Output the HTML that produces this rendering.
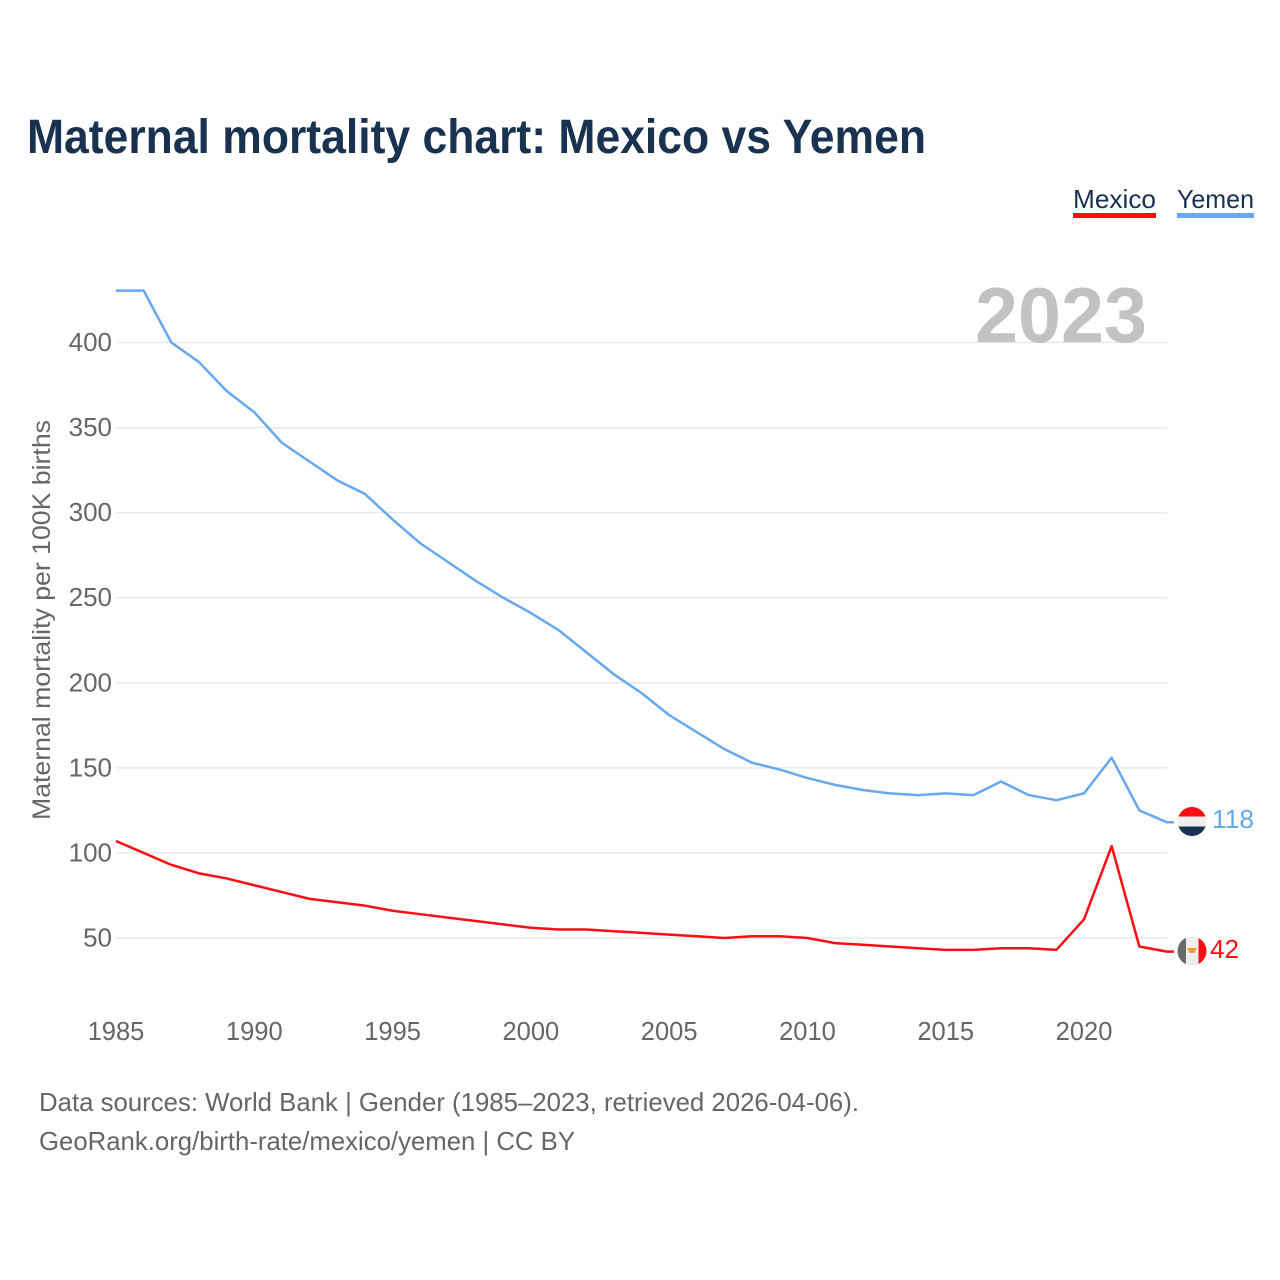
<!DOCTYPE html>
<html lang="en">
<head>
<meta charset="utf-8">
<title>Maternal mortality chart: Mexico vs Yemen</title>
<style>
html,body{margin:0;padding:0;background:#fff;width:1280px;height:1280px;overflow:hidden}
svg{display:block}
text{font-family:"Liberation Sans",Arial,sans-serif}
</style>
</head>
<body>
<svg id="chart" xmlns="http://www.w3.org/2000/svg" width="1280" height="1280" viewBox="0 0 1280 1280">
  <rect width="1280" height="1280" fill="#fff"/>
  <text x="27" y="153" font-size="48" font-weight="700" fill="#18324f" textLength="899" lengthAdjust="spacingAndGlyphs">Maternal mortality chart: Mexico vs Yemen</text>

  <g>
    <g>
      <text x="1073" y="208" font-size="26" fill="#18324f" textLength="83" lengthAdjust="spacingAndGlyphs">Mexico</text>
      <rect x="1073" y="213" width="83" height="5" fill="#ff0d14"/>
    </g>
    <g>
      <text x="1177" y="208" font-size="26" fill="#18324f" textLength="77" lengthAdjust="spacingAndGlyphs">Yemen</text>
      <rect x="1177" y="213" width="77" height="5" fill="#67a8ee"/>
    </g>
  </g>

  <g id="grid"></g>
  <text x="975" y="342" font-size="78" font-weight="700" fill="#c2c2c2" textLength="172" lengthAdjust="spacingAndGlyphs">2023</text>
  <g id="yticks"></g>
  <g id="xticks"></g>
  <text transform="translate(50,820) rotate(-90)" font-size="25" fill="#666" textLength="400" lengthAdjust="spacingAndGlyphs">Maternal mortality per 100K births</text>

  <g id="lines"></g>

  <defs>
    <clipPath id="clip-yemen"><circle cx="1192" cy="821.5" r="14.5"/></clipPath>
    <clipPath id="clip-mexico"><circle cx="1192" cy="951" r="14.5"/></clipPath>
  </defs>
  <g id="flag-yemen" clip-path="url(#clip-yemen)">
    <rect x="1177" y="806" width="30" height="31" fill="#eeeeee"/>
    <rect x="1177" y="806" width="30" height="10.5" fill="#ff0d14"/>
    <rect x="1177" y="826.5" width="30" height="10.5" fill="#18324f"/>
  </g>
  <g id="flag-mexico" clip-path="url(#clip-mexico)">
    <rect x="1177" y="936" width="30" height="31" fill="#eeeeee"/>
    <rect x="1177" y="936" width="9" height="31" fill="#6a6a6a"/>
    <rect x="1198.5" y="936" width="9" height="31" fill="#ff0d14"/>
    <path d="M1187 948h10l-2.500 5h-5z" fill="#f0a030"/>
  </g>
  <text x="1212" y="828" font-size="26" fill="#67a8ee" textLength="42" lengthAdjust="spacingAndGlyphs">118</text>
  <text x="1210" y="958" font-size="26" fill="#ff0d14" textLength="29" lengthAdjust="spacingAndGlyphs">42</text>

  <text x="39" y="1111" font-size="26" fill="#666" textLength="820" lengthAdjust="spacingAndGlyphs">Data sources: World Bank | Gender (1985–2023, retrieved 2026-04-06).</text>
  <text x="39" y="1150" font-size="26" fill="#666" textLength="536" lengthAdjust="spacingAndGlyphs">GeoRank.org/birth-rate/mexico/yemen | CC BY</text>
</svg>
<script>
const years = [1985,1986,1987,1988,1989,1990,1991,1992,1993,1994,1995,1996,1997,1998,1999,2000,2001,2002,2003,2004,2005,2006,2007,2008,2009,2010,2011,2012,2013,2014,2015,2016,2017,2018,2019,2020,2021,2022,2023];
const mexicoValues = [107,100,93,88,85,81,77,73,71,69,66,64,62,60,58,56,55,55,54,53,52,51,50,51,51,50,47,46,45,44,43,43,44,44,43,61,104,45,42];
const yemenValues = [430.5,430.5,400,388.5,371.5,359,341,330,319,311,296,282,271,260,250,241,231,218,205,194,181,171,161,153,149,144,140,137,135,134,135,134,142,134,131,135,156,125,118];
const yTickValues = [50,100,150,200,250,300,350,400];
const xTickValues = [1985,1990,1995,2000,2005,2010,2015,2020];

const NS = 'http://www.w3.org/2000/svg';
function xScale(year){ return 116 + (year - 1985) * (1167 - 116) / 38; }
function yScale(value){ return 938 - (value - 50) * (938 - 342.5) / 350; }
function make(tag, attrs){
  const el = document.createElementNS(NS, tag);
  for (const k in attrs) el.setAttribute(k, attrs[k]);
  return el;
}

const grid = document.getElementById('grid');
const yticks = document.getElementById('yticks');
yTickValues.forEach(function(v){
  const line = make('line', {x1:116, x2:1167, y1:yScale(v), y2:yScale(v), stroke:'#e9e9e9', 'stroke-width':1.5});
  
  
  grid.appendChild(line);
  const label = make('text', {x:112, y:yScale(v) + 8.5, 'text-anchor':'end', 'font-size':26, fill:'#666'});
  
  
  label.textContent = v;
  yticks.appendChild(label);
});

const xticks = document.getElementById('xticks');
xTickValues.forEach(function(y){
  const label = make('text', {x:xScale(y), y:1040, 'text-anchor':'middle', 'font-size':25.5, fill:'#666'});
  
  
  label.textContent = y;
  xticks.appendChild(label);
});

const lines = document.getElementById('lines');
function pathFor(values){
  const pts = values.map(function(v, i){
    return (i ? 'L' : 'M') + xScale(years[i]).toFixed(2) + ' ' + yScale(v).toFixed(2);
  });
  // short horizontal leader from the last point toward the flag marker
  pts.push('h7');
  return pts.join(' ');
}
const yemenLine = make('path', {d:pathFor(yemenValues), fill:'none', stroke:'#67a8ee', 'stroke-width':2.5, 'stroke-linejoin':'round'});


lines.appendChild(yemenLine);
const mexicoLine = make('path', {d:pathFor(mexicoValues), fill:'none', stroke:'#ff0d14', 'stroke-width':2.5, 'stroke-linejoin':'round'});


lines.appendChild(mexicoLine);
</script>
</body>
</html>
